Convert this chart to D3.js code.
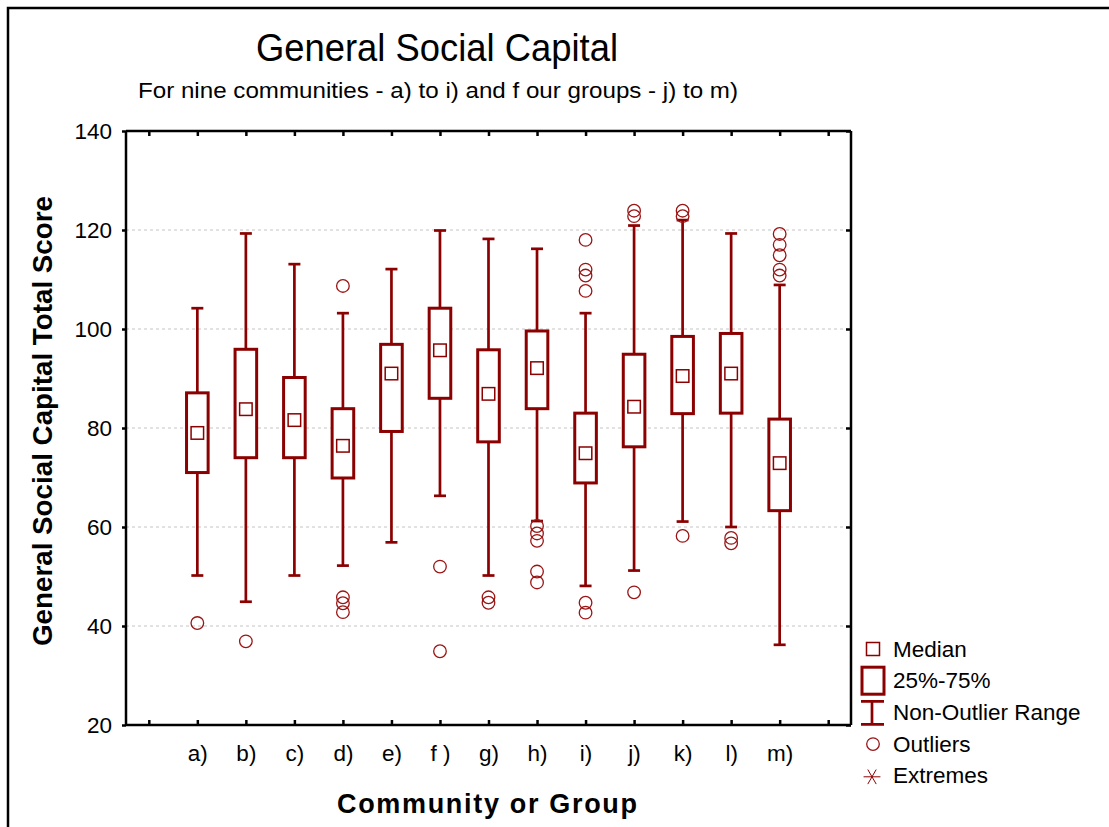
<!DOCTYPE html>
<html lang="en">
<head>
    <meta charset="UTF-8">
    <title>General Social Capital</title>
    <script src="https://d3js.org/d3.v7.min.js"></script>
    <style>
        body { margin: 0; background: #fff; }
        svg { display: block; }
        text { font-family: "Liberation Sans", Arial, sans-serif; fill: #000; }
    </style>
</head>
<body>
    <svg id="chart" width="1109" height="827"></svg>
    <script>
        // values
        const categories = ["a)", "b)", "c)", "d)", "e)", "f )", "g)", "h)", "i)", "j)", "k)", "l)", "m)"];
        const whiskerLow  = [50.2, 44.9, 50.2, 52.2, 56.9, 66.3, 50.2, 61.2, 48.1, 51.2, 61.1, 60.0, 36.2];
        const q1          = [71.0, 74.0, 74.0, 69.9, 79.3, 86.0, 77.2, 83.9, 68.9, 76.2, 82.9, 83.0, 63.3];
        const median      = [79.0, 83.8, 81.6, 76.4, 91.0, 95.7, 86.9, 92.1, 74.9, 84.3, 90.5, 91.0, 72.9];
        const q3          = [87.1, 95.9, 90.2, 83.9, 96.9, 104.2, 95.8, 99.6, 83.0, 94.9, 98.5, 99.1, 81.8];
        const whiskerHigh = [104.2, 119.3, 113.1, 103.2, 112.1, 119.9, 118.2, 116.2, 103.2, 120.9, 122.0, 119.3, 108.9];
        const outliers = [
            [40.6],
            [36.9],
            [],
            [108.7, 45.8, 44.6, 42.8],
            [],
            [52.0, 34.9],
            [45.8, 44.7],
            [60.2, 58.7, 57.2, 51.0, 48.8],
            [118.0, 112.0, 110.8, 107.7, 44.7, 42.7],
            [123.9, 122.8, 46.8],
            [123.9, 122.8, 58.2],
            [57.8, 56.7],
            [119.2, 117.0, 114.9, 112.0, 110.8]
        ];
        const yTicks = [20, 40, 60, 80, 100, 120, 140];
        const gridValues = [40, 60, 80, 100, 120];
        const legendLabels = ["Median", "25%-75%", "Non-Outlier Range", "Outliers", "Extremes"];

        const red = "#8b0000";
        const svg = d3.select("#chart");

        // outer frame (only left and top edges fall inside the picture)
        svg.append("rect")
            .attr("x", 8).attr("y", 8)
            .attr("width", 1130).attr("height", 850)
            .attr("fill", "#fff").attr("stroke", "#000").attr("stroke-width", 2.5);

        const plot = {left: 126, right: 851, top: 131, bottom: 725};

        // slot positions: 0 and 14 are the empty end ticks, categories sit on 1..13
        const x = d3.scaleLinear().domain([-0.47, 14.47]).range([plot.left, plot.right]);
        const y = d3.scaleLinear().domain([20, 140]).range([plot.bottom, plot.top]);
        const slots = d3.range(0, 15);

        // grid
        svg.append("g")
            .selectAll("line")
            .data(gridValues)
            .join("line")
            .attr("x1", plot.left).attr("x2", plot.right)
            .attr("y1", d => y(d)).attr("y2", d => y(d))
            .attr("stroke", "#c4c4c4")
            .attr("stroke-width", 1)
            .attr("stroke-dasharray", "3,3");

        // axes
        const axisLeft = d3.axisLeft(y).tickValues(yTicks).tickSize(4).tickPadding(10);
        const axisRight = d3.axisRight(y).tickValues(yTicks).tickSize(-5).tickFormat("");
        const axisTop = d3.axisTop(x).tickValues(slots).tickSize(-5).tickFormat("");
        const axisBottom = d3.axisBottom(x).tickValues(slots).tickSize(-5).tickPadding(20)
            .tickFormat(d => (d >= 1 && d <= 13) ? categories[d - 1] : "");

        const gl = svg.append("g").attr("transform", `translate(${plot.left},0)`).call(axisLeft);
        const gr = svg.append("g").attr("transform", `translate(${plot.right},0)`).call(axisRight);
        const gt = svg.append("g").attr("transform", `translate(0,${plot.top})`).call(axisTop);
        const gb = svg.append("g").attr("transform", `translate(0,${plot.bottom})`).call(axisBottom);

        [gl, gr, gt, gb].forEach(g => {
            g.select(".domain").attr("stroke", "#000").attr("stroke-width", 2.5);
            g.selectAll(".tick line").attr("stroke", "#000").attr("stroke-width", 2.5);
            g.selectAll("text").attr("font-size", 22.5).attr("font-family", "Liberation Sans, Arial, sans-serif").attr("fill", "#000");
        });
        // close the corners so the frame looks like one rectangle
        gl.select(".domain").attr("d", `M0,${plot.top}V${plot.bottom}`);
        gr.select(".domain").attr("d", `M0,${plot.top}V${plot.bottom}`);
        gt.select(".domain").attr("d", `M${plot.left},0H${plot.right}`);
        gb.select(".domain").attr("d", `M${plot.left},0H${plot.right}`);

        // boxes
        const step = x(1) - x(0);
        const boxW = step * 0.445;
        const capW = 12;
        const medS = 12.5;

        const boxes = svg.append("g")
            .selectAll("g")
            .data(categories.map((c, i) => i))
            .join("g")
            .attr("transform", i => `translate(${x(i + 1)},0)`);

        boxes.append("line")
            .attr("x1", 0).attr("x2", 0)
            .attr("y1", i => y(whiskerLow[i])).attr("y2", i => y(whiskerHigh[i]))
            .attr("stroke", red).attr("stroke-width", 2.7);

        boxes.append("line")
            .attr("x1", -capW / 2).attr("x2", capW / 2)
            .attr("y1", i => y(whiskerLow[i])).attr("y2", i => y(whiskerLow[i]))
            .attr("stroke", red).attr("stroke-width", 2.7);

        boxes.append("line")
            .attr("x1", -capW / 2).attr("x2", capW / 2)
            .attr("y1", i => y(whiskerHigh[i])).attr("y2", i => y(whiskerHigh[i]))
            .attr("stroke", red).attr("stroke-width", 2.7);

        boxes.append("rect")
            .attr("x", -boxW / 2).attr("width", boxW)
            .attr("y", i => y(q3[i])).attr("height", i => y(q1[i]) - y(q3[i]))
            .attr("fill", "#fff").attr("stroke", red).attr("stroke-width", 3);

        boxes.append("rect")
            .attr("x", -medS / 2).attr("width", medS)
            .attr("y", i => y(median[i]) - medS / 2).attr("height", medS)
            .attr("fill", "#fff").attr("stroke", red).attr("stroke-width", 1.5);

        boxes.selectAll("circle")
            .data(i => outliers[i])
            .join("circle")
            .attr("cx", 0).attr("cy", d => y(d)).attr("r", 6.3)
            .attr("fill", "none").attr("stroke", "#9a1515").attr("stroke-width", 1.3);

        // titles
        svg.append("text")
            .attr("x", 437).attr("y", 61)
            .attr("text-anchor", "middle")
            .attr("font-size", 38)
            .attr("textLength", 362).attr("lengthAdjust", "spacingAndGlyphs")
            .text("General Social Capital");

        svg.append("text")
            .attr("x", 438).attr("y", 98)
            .attr("text-anchor", "middle")
            .attr("font-size", 22)
            .attr("textLength", 600).attr("lengthAdjust", "spacingAndGlyphs")
            .text("For nine communities - a) to i) and f our groups - j) to m)");

        svg.append("text")
            .attr("transform", "translate(52,421) rotate(-90)")
            .attr("text-anchor", "middle")
            .attr("font-size", 27).attr("font-weight", "bold")
            .attr("textLength", 450).attr("lengthAdjust", "spacingAndGlyphs")
            .text("General Social Capital Total Score");

        svg.append("text")
            .attr("x", 487).attr("y", 813)
            .attr("text-anchor", "middle")
            .attr("font-size", 27).attr("font-weight", "bold")
            .attr("textLength", 300).attr("lengthAdjust", "spacing")
            .text("Community or Group");

        // legend
        const legend = svg.append("g").attr("transform", "translate(873,0)");
        const rowY = i => 649 + i * 31.7;

        legend.append("rect")
            .attr("x", -6.5).attr("y", rowY(0) - 6.5).attr("width", 13).attr("height", 13)
            .attr("fill", "#fff").attr("stroke", red).attr("stroke-width", 1.5);
        legend.append("rect")
            .attr("x", -11).attr("y", rowY(1) - 13.5).attr("width", 22).attr("height", 27)
            .attr("fill", "#fff").attr("stroke", red).attr("stroke-width", 3);
        legend.append("path")
            .attr("d", `M-12,${rowY(2) - 11}H11M-1,${rowY(2) - 11}V${rowY(2) + 12}M-12,${rowY(2) + 12}H11`)
            .attr("fill", "none").attr("stroke", red).attr("stroke-width", 2.7);
        legend.append("circle")
            .attr("cx", 0).attr("cy", rowY(3)).attr("r", 6.3)
            .attr("fill", "none").attr("stroke", "#9a1515").attr("stroke-width", 1.3);
        legend.append("path")
            .attr("d", d3.symbol(d3.symbolAsterisk, 200)())
            .attr("transform", `translate(-1,${rowY(4) + 1}) rotate(90)`)
            .attr("fill", "none").attr("stroke", red).attr("stroke-width", 1);

        legend.selectAll("text")
            .data(legendLabels)
            .join("text")
            .attr("x", 20)
            .attr("y", (d, i) => rowY(i) + 7.5)
            .attr("font-size", 22.5)
            .text(d => d);
    </script>
</body>
</html>
